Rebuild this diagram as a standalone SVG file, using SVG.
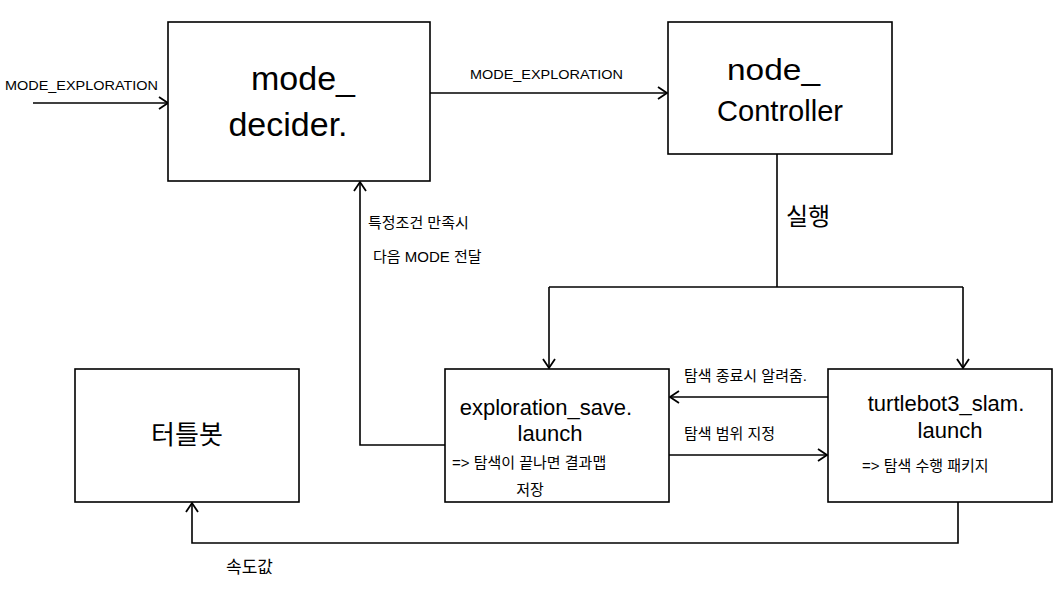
<svg xmlns="http://www.w3.org/2000/svg" width="1060" height="590" viewBox="0 0 1060 590">
<style>
.box{fill:#fff;stroke:#000;stroke-width:1.6}
.ln{fill:none;stroke:#000;stroke-width:1.6}
.t{font-family:"Liberation Sans","Noto Sans CJK KR",sans-serif;fill:#000}
.big{font-size:34px}
.mid{font-size:22px}
.sm{font-size:15px}
.xs{font-size:13px}
</style>
<defs>
<marker id="ah" markerWidth="14" markerHeight="14" refX="11" refY="7" orient="auto" markerUnits="userSpaceOnUse">
<path d="M2,1 L11,7 L2,13" fill="none" stroke="#000" stroke-width="1.8"/>
</marker>
</defs>
<rect width="1060" height="590" fill="#fff"/>
<g id="connectors">
<path class="ln" d="M33,103 L168,103" marker-end="url(#ah)"/>
<path class="ln" d="M430,93 L667,93" marker-end="url(#ah)"/>
<path class="ln" d="M777,154 L777,287"/>
<path class="ln" d="M549,287 L963,287"/>
<path class="ln" d="M549,287 L549,368" marker-end="url(#ah)"/>
<path class="ln" d="M963,287 L963,368" marker-end="url(#ah)"/>
<path class="ln" d="M445,445 L360,445 L360,182" marker-end="url(#ah)"/>
<path class="ln" d="M828,397 L670,397" marker-end="url(#ah)"/>
<path class="ln" d="M669,455 L827,455" marker-end="url(#ah)"/>
<path class="ln" d="M958,502 L958,543 L192,543 L192,503" marker-end="url(#ah)"/>
<text class="t xs" x="5" y="90" textLength="153" lengthAdjust="spacingAndGlyphs">MODE_EXPLORATION</text>
<text class="t xs" x="470" y="79" textLength="153" lengthAdjust="spacingAndGlyphs">MODE_EXPLORATION</text>
<text class="t" style="font-size:24px" x="786" y="225">실행</text>
<text class="t sm" x="368" y="228">특정조건 만족시</text>
<text class="t sm" x="373" y="262">다음 MODE 전달</text>
<text class="t sm" x="684" y="381">탐색 종료시 알려줌.</text>
<text class="t sm" x="684" y="439">탐색 범위 지정</text>
<text class="t" style="font-size:17px" x="226" y="573">속도값</text>
</g>
<g id="mode_decider">
<rect class="box" x="168" y="22" width="262" height="159"/>
<text class="t big" x="303" y="90" text-anchor="middle">mode_</text>
<text class="t big" x="288" y="136" text-anchor="middle">decider.</text>
</g>
<g id="node_controller">
<rect class="box" x="668" y="22" width="224" height="132"/>
<text class="t" style="font-size:30px" x="727" y="80" textLength="93" lengthAdjust="spacingAndGlyphs">node_</text>
<text class="t" style="font-size:30px" x="717" y="121" textLength="126" lengthAdjust="spacingAndGlyphs">Controller</text>
</g>
<g id="exploration_save">
<rect class="box" x="445" y="369" width="224" height="133"/>
<text class="t mid" x="546" y="415" text-anchor="middle">exploration_save.</text>
<text class="t mid" x="550" y="441" text-anchor="middle">launch</text>
<text class="t sm" x="452" y="468">=&gt; 탐색이 끝나면 결과맵</text>
<text class="t sm" x="530" y="495" text-anchor="middle">저장</text>
</g>
<g id="turtlebot3_slam">
<rect class="box" x="828" y="369" width="224" height="133"/>
<text class="t mid" x="946" y="411" text-anchor="middle">turtlebot3_slam.</text>
<text class="t mid" x="950" y="438" text-anchor="middle">launch</text>
<text class="t sm" x="862" y="471">=&gt; 탐색 수행 패키지</text>
</g>
<g id="turtlebot">
<rect class="box" x="75" y="369" width="224" height="133"/>
<text class="t" style="font-size:26px" x="187" y="444" text-anchor="middle">터틀봇</text>
</g>
</svg>
